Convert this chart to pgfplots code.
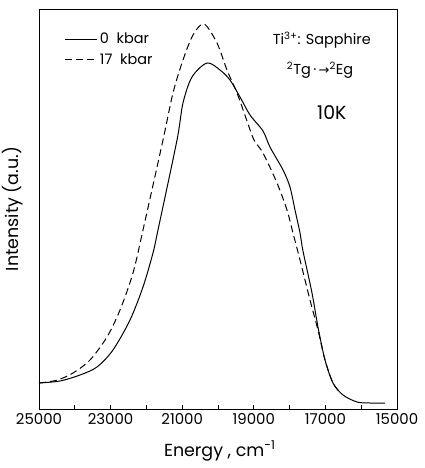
\documentclass[border=0pt]{standalone}
\usepackage{fontspec}
\setmainfont{Poppins}
\newfontfamily\dejavu{DejaVu Sans}
\usepackage{pgfplots}
\pgfplotsset{compat=1.18}
\begin{document}
\begin{tikzpicture}
\begin{axis}[
  scale only axis, width=358bp, height=400bp,
  x dir=reverse, xmin=15000, xmax=25000, ymin=0, ymax=100,
  xtick={15000,17000,...,25000}, minor xtick={16000,18000,...,24000},
  scaled x ticks=false,
  /pgf/number format/assume math mode=true,
  xticklabel style={font=\fontsize{15}{15}\selectfont, /pgf/number format/1000 sep={}, yshift=-1bp},
  ytick=\empty,
  xtick pos=bottom,
  tick align=inside, major tick length=4bp, minor tick length=4bp,
  axis line style={line width=0.9pt},
  every tick/.style={line width=0.8pt},
  xlabel={Energy , cm\textsuperscript{-1}},
  ylabel={Intensity (a.u.)},
  label style={font=\fontsize{17.5}{17.5}\selectfont},
  xlabel style={at={(axis description cs:0.505,0)}, anchor=center, yshift=-42bp},
  ylabel style={at={(axis description cs:-0.075,0.5)}, anchor=center},
  legend style={at={(axis description cs:0.072,0.945)}, anchor=north west, draw=none, fill=none,
    font=\fontsize{14.5}{14.5}\selectfont, inner sep=0pt, row sep=4bp},
  legend cell align=left,
  legend image code/.code={\draw[#1] (0bp,0bp) -- (32bp,0bp);},
]
\addplot[black, line width=1pt, smooth, tension=0.5] coordinates {
(25000,6.5) (24413,7) (23855,8.5) (23380,10.5) (22933,14.75) (22458,22.25)
(22095,30.5) (21816,39) (21676,44.75) (21145,67.25) (20978,76.5) (20726,83)
(20307,86.5) (19944,84.75) (19665,82.25) (19385,78) (19106,73.5) (18743,69.5)
(18548,65.5) (18184,59.75) (17989,55.5) (17849,49.75) (17709,44) (17626,39.5)
(17374,29) (17207,20.5) (17011,12.25) (16788,6.5) (16508,3.5) (16117,1.75)
(15754,1.5) (15335,1.5)
};
\addlegendentry{0\ \ kbar}
\addplot[black, line width=1pt, smooth, tension=0.5, dash pattern=on 7bp off 4bp] coordinates {
(25000,6.5) (24500,7.2) (24050,9) (23575,12.25) (23101,18) (22737,24.75)
(22374,34) (22095,44.75) (21536,67.25) (21257,79) (20978,87.25) (20698,93.5)
(20391,96.25) (20028,91.5) (19749,84.75) (19469,79) (19190,72) (18994,67.25)
(18743,64) (18352,56.5) (18073,49.75) (17905,44) (17709,37.25) (17430,27.25)
(17207,19.75) (17011,12.25) (16788,6.5) (16600,4.3)
};
\addlegendentry{17\ \ kbar}
\node[font=\fontsize{14.5}{14.5}\selectfont, anchor=center] at (axis description cs:0.79,0.9225) {Ti\textsuperscript{3+}: Sapphire};
\node[font=\fontsize{14.5}{14.5}\selectfont, anchor=center] at (axis description cs:0.785,0.8475) {\textsuperscript{2}Tg\,·\,{\dejavu\fontsize{13}{13}\selectfont →}\textsuperscript{2}Eg};
\node[font=\fontsize{19}{19}\selectfont, anchor=center] at (axis description cs:0.818,0.74) {10K};
\end{axis}
\pgfresetboundingbox
\path ([shift={(-39bp,-59bp)}]current axis.south west) rectangle ([shift={(28bp,9bp)}]current axis.north east);
\end{tikzpicture}
\end{document}
